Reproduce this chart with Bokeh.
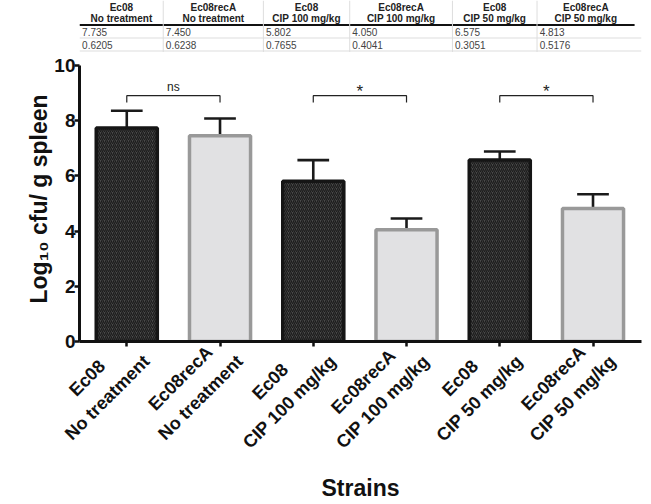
import math
from bokeh.plotting import figure
from bokeh.layouts import column
from bokeh.models import Range1d, FixedTicker, ColumnDataSource
from bokeh.core.properties import value
from bokeh.embed import file_html
from bokeh.resources import INLINE

# ---------------- data ----------------
strains = ["Ec08", "Ec08recA", "Ec08", "Ec08recA", "Ec08", "Ec08recA"]
treatments = ["No treatment", "No treatment", "CIP 100 mg/kg", "CIP 100 mg/kg",
              "CIP 50 mg/kg", "CIP 50 mg/kg"]
means = [7.735, 7.450, 5.802, 4.050, 6.575, 4.813]
sems = [0.6205, 0.6238, 0.7655, 0.4041, 0.3051, 0.5176]
mean_text = ["7.735", "7.450", "5.802", "4.050", "6.575", "4.813"]
sem_text = ["0.6205", "0.6238", "0.7655", "0.4041", "0.3051", "0.5176"]
comparisons = [(0, 1, "ns"), (2, 3, "*"), (4, 5, "*")]
y_ticks = [0, 2, 4, 6, 8, 10]

FONT = "Liberation Sans"
idx = list(range(len(means)))

# approximate Arial-bold advance widths (em) to centre the two label lines
_W = {"E": .667, "c": .556, "0": .556, "8": .556, "r": .389, "e": .556, "A": .722,
      "N": .722, "o": .611, " ": .278, "t": .333, "a": .556, "m": .889, "n": .611,
      "C": .722, "I": .278, "P": .667, "1": .556, "5": .556, "g": .611, "/": .278,
      "k": .556}


def _w(s):
    return sum(_W.get(ch, .556) for ch in s)


def centred_label(top, bottom):
    pad = max(0, int(round((_w(bottom) - _w(top)) / 2 / .278)))
    # leading empty line shifts the rotated block along the tick direction
    return "\n" + top + "\u00a0" * pad + "\n" + bottom


labels = [centred_label(s, t) for s, t in zip(strains, treatments)]

# ---------------- table (top) ----------------
W = 651
col_edges = [0, 97, 213, 313, 432, 530, 643]
tab = figure(width=W, height=52, x_range=Range1d(0, W), y_range=Range1d(52, 0),
             output_backend="svg", toolbar_location=None, min_border=0)
tab.axis.visible = False
tab.grid.visible = False
tab.outline_line_color = None

centers = [(col_edges[i] + col_edges[i + 1]) / 2 for i in range(6)]
lefts = [col_edges[i] + 3 for i in range(6)]
tab.text(x=centers, y=[7] * 6, text=strains, text_font=value(FONT),
         text_font_style="bold", text_font_size="10px", text_align="center",
         text_baseline="middle", text_color="#222222")
tab.text(x=centers, y=[17.5] * 6, text=treatments, text_font=value(FONT),
         text_font_style="bold", text_font_size="10px", text_align="center",
         text_baseline="middle", text_color="#222222")
tab.text(x=lefts, y=[31] * 6, text=mean_text, text_font=value(FONT),
         text_font_size="10px", text_align="left", text_baseline="middle",
         text_color="#444444")
tab.text(x=lefts, y=[44] * 6, text=sem_text, text_font=value(FONT),
         text_font_size="10px", text_align="left", text_baseline="middle",
         text_color="#444444")
tab.segment(x0=[0], y0=[24.5], x1=[col_edges[-1]], y1=[24.5], line_color="#111111", line_width=2)
tab.segment(x0=[0, 0], y0=[37.5, 50.5], x1=[W, W], y1=[37.5, 50.5], line_color="#dddddd", line_width=1)
tab.segment(x0=col_edges[1:-1], y0=[0] * 5, x1=col_edges[1:-1], y1=[52] * 5,
            line_color="#dddddd", line_width=1)

# ---------------- chart ----------------
p = figure(width=W, height=452, x_range=Range1d(-0.507, 5.52), y_range=Range1d(0, 10.32),
           output_backend="svg", toolbar_location=None,
           min_border_left=87, min_border_right=2, min_border_top=4, min_border_bottom=162)
p.grid.visible = False
p.outline_line_color = None
p.background_fill_color = "white"

dark_x = [i for i in idx if i % 2 == 0]
light_x = [i for i in idx if i % 2 == 1]
bw = 0.655

# error bars (upper only)
tops = [m + s for m, s in zip(means, sems)]
p.segment(x0=idx, y0=means, x1=idx, y1=tops, line_color="#1a1a1a", line_width=2.6)
p.segment(x0=[i - 0.17 for i in idx], y0=tops, x1=[i + 0.17 for i in idx], y1=tops,
          line_color="#1a1a1a", line_width=2.6)

p.vbar(x=dark_x, top=[means[i] for i in dark_x], bottom=0, width=bw,
       fill_color="#4a4a4a", hatch_pattern="right_diagonal_line", hatch_color="#1c1c1c",
       hatch_scale=4, hatch_weight=1.3, line_color="#151515", line_width=3.5)
p.vbar(x=light_x, top=[means[i] for i in light_x], bottom=0, width=bw,
       fill_color="#e1e1e3", line_color="#999999", line_width=3.5)

# significance brackets
level, drop = 8.9, 0.25
xs, ys = [], []
src = dict(x=[], y=[], text=[], size=[])
for a, b, lab in comparisons:
    xs.append([a, a, b, b])
    ys.append([level - drop, level, level, level - drop])
    src["x"].append((a + b) / 2)
    src["y"].append(level + 0.33 if lab == "ns" else level + 0.15)
    src["text"].append(lab)
    src["size"].append("12px" if lab == "ns" else "17px")
p.multi_line(xs=xs, ys=ys, line_color="#222222", line_width=1.2)
p.text(x="x", y="y", text="text", text_font_size="size", source=ColumnDataSource(src),
       text_font=value(FONT), text_align="center", text_baseline="middle",
       text_color="#222222")

# axes
yax = p.yaxis[0]
yax.ticker = FixedTicker(ticks=y_ticks)
yax.bounds = (0, 10)
yax.axis_line_width = 3
yax.axis_line_color = "#111111"
yax.major_tick_line_width = 2.5
yax.major_tick_line_color = "#111111"
yax.major_tick_out = 5
yax.major_tick_in = 0
yax.minor_tick_line_color = None
yax.major_label_text_font = FONT
yax.major_label_text_font_style = "bold"
yax.major_label_text_font_size = "19px"
yax.major_label_text_color = "#111111"
yax.major_label_standoff = -1
yax.axis_label = "Log\u2081\u2080 cfu/ g spleen"
yax.axis_label_text_font = FONT
yax.axis_label_text_font_style = "bold"
yax.axis_label_text_font_size = "23px"
yax.axis_label_text_color = "#111111"
yax.axis_label_standoff = -1

xax = p.xaxis[0]
xax.ticker = FixedTicker(ticks=idx)
xax.major_label_overrides = {i: labels[i] for i in idx}
xax.major_label_orientation = math.pi / 4
xax.axis_line_width = 3
xax.axis_line_color = "#111111"
xax.major_tick_line_width = 2.5
xax.major_tick_line_color = "#111111"
xax.major_tick_out = 5
xax.major_tick_in = 0
xax.minor_tick_line_color = None
xax.major_label_text_font = FONT
xax.major_label_text_font_style = "bold"
xax.major_label_text_font_size = "18px"
xax.major_label_text_color = "#111111"
xax.major_label_text_line_height = 1.4
xax.major_label_standoff = -8
xax.axis_label = "Strains"
xax.axis_label_text_font = FONT
xax.axis_label_text_font_style = "bold"
xax.axis_label_text_font_size = "23px"
xax.axis_label_text_color = "#111111"
xax.axis_label_standoff = -7

layout = column(tab, p, styles={"margin-left": "-8px"})

with open("out.html", "w") as f:
    f.write(file_html(layout, INLINE))
